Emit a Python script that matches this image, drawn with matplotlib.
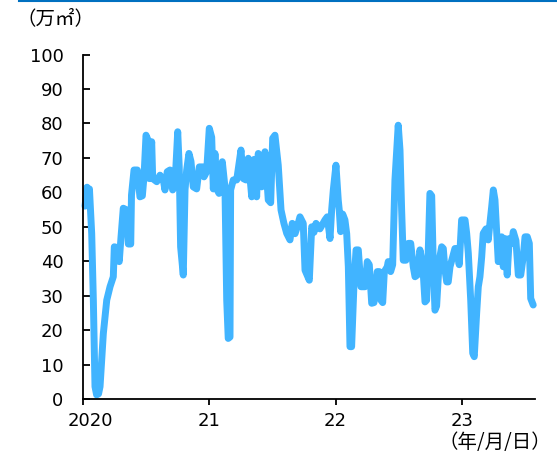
import matplotlib
matplotlib.use("Agg")
import matplotlib.pyplot as plt
import matplotlib.transforms as mtransforms
from matplotlib.lines import Line2D

# time in decimal years, value in 万㎡
years = [
    2020.016, 2020.032, 2020.044, 2020.051, 2020.069, 2020.082, 2020.095, 2020.108,
    2020.123, 2020.135, 2020.161, 2020.188, 2020.214, 2020.240, 2020.248, 2020.267,
    2020.287, 2020.301, 2020.319, 2020.346, 2020.359, 2020.378, 2020.384, 2020.404,
    2020.430, 2020.451, 2020.470, 2020.483, 2020.499, 2020.517, 2020.525, 2020.544,
    2020.552, 2020.584, 2020.610, 2020.636, 2020.649, 2020.667, 2020.689, 2020.710,
    2020.728, 2020.750, 2020.762, 2020.773, 2020.794, 2020.808, 2020.821, 2020.839,
    2020.855, 2020.873, 2020.900, 2020.921, 2020.948, 2020.958, 2020.979, 2021.000,
    2021.019, 2021.032, 2021.045, 2021.059, 2021.077, 2021.103, 2021.124, 2021.138,
    2021.150, 2021.164, 2021.169, 2021.190, 2021.217, 2021.230, 2021.251, 2021.269,
    2021.291, 2021.309, 2021.336, 2021.356, 2021.375, 2021.388, 2021.415, 2021.441,
    2021.467, 2021.486, 2021.502, 2021.520, 2021.546, 2021.568, 2021.591, 2021.613,
    2021.639, 2021.657, 2021.679, 2021.697, 2021.718, 2021.744, 2021.758, 2021.792,
    2021.811, 2021.829, 2021.845, 2021.876, 2021.916, 2021.934, 2021.956, 2021.969,
    2021.982, 2022.003, 2022.021, 2022.029, 2022.040, 2022.056, 2022.074, 2022.088,
    2022.101, 2022.114, 2022.127, 2022.146, 2022.162, 2022.180, 2022.201, 2022.233,
    2022.251, 2022.267, 2022.286, 2022.304, 2022.330, 2022.346, 2022.359, 2022.373,
    2022.386, 2022.409, 2022.417, 2022.436, 2022.452, 2022.470, 2022.496, 2022.510,
    2022.523, 2022.536, 2022.557, 2022.576, 2022.595, 2022.615, 2022.629, 2022.647,
    2022.668, 2022.690, 2022.708, 2022.721, 2022.734, 2022.747, 2022.761, 2022.774,
    2022.787, 2022.800, 2022.821, 2022.840, 2022.853, 2022.866, 2022.880, 2022.892,
    2022.906, 2022.927, 2022.945, 2022.959, 2022.979, 2022.998, 2023.025, 2023.038,
    2023.051, 2023.070, 2023.086, 2023.098, 2023.117, 2023.130, 2023.143, 2023.157,
    2023.169, 2023.191, 2023.209, 2023.222, 2023.236, 2023.249, 2023.262, 2023.276,
    2023.288, 2023.302, 2023.315, 2023.328, 2023.341, 2023.359, 2023.375, 2023.394,
    2023.407, 2023.428, 2023.447, 2023.466, 2023.486, 2023.500, 2023.518, 2023.534,
    2023.545, 2023.565,
]
values = [
    56, 61.5, 57, 61, 48, 28.7, 3.6, 1.2,
    1.5, 3.6, 19, 28.7, 32.6, 35.5, 44.2, 44,
    39.9, 47, 55.4, 54.9, 45, 45, 59.2, 66.5,
    66.5, 58.7, 59, 64.5, 76.6, 75, 64, 74.7,
    64, 63.1, 65, 63.6, 60.7, 66, 66.5, 60.7,
    62, 77.6, 67.4, 44.2, 36, 60.7, 66.5, 71.3,
    69, 61.6, 61, 67.4, 67.4, 64.5, 66, 78.6,
    76, 61, 71.3, 61, 59.7, 68.9, 61.6, 28.7,
    17.6, 18, 60.7, 63.6, 63.6, 67, 72.3, 64,
    63.6, 69.9, 58.7, 69.6, 58.7, 71.3, 61.6, 71.8,
    57.8, 57, 75.7, 76.6, 67.9, 54.9, 51, 48.1,
    46.2, 51, 48, 50, 52.9, 51, 37.4, 34.5,
    50, 48.4, 51, 49.4, 52, 52.9, 46.6, 54.9,
    60.7, 67.9, 57.8, 54.9, 48.6, 53.7, 52, 48,
    38.4, 15.2, 15.2, 33.6, 43.3, 43.3, 32.6, 32.6,
    39.9, 39, 27.8, 28, 37, 37, 28.7, 28,
    37, 38.4, 39.9, 37, 39, 63.6, 79.5, 72.3,
    54.9, 40.3, 40.3, 45.2, 45.2, 38.4, 35.5, 36,
    43.3, 39, 28.2, 28.7, 43.3, 59.7, 59, 38.4,
    25.8, 27, 40.3, 44.2, 43.7, 37.5, 34, 34,
    38.4, 41.3, 43.7, 43.7, 39, 52, 52, 48.1,
    42.3, 28.7, 13.3, 12.3, 24.9, 32.6, 35.5, 41.3,
    48.1, 49.4, 46.2, 51, 55.8, 60.7, 57.8, 48.1,
    39.9, 40.3, 47.1, 38.4, 46.6, 36, 46.6, 45.2,
    48.6, 46, 36, 36, 41.3, 47.1, 47.1, 45.2,
    29.2, 27.3,
]

year_ticks = [2020, 2021, 2022, 2023]
year_labels = ["2020", "21", "22", "23"]
y_ticks = list(range(0, 101, 10))

fig = plt.figure(figsize=(5.57, 4.55), dpi=100)
ax = fig.add_axes([0.149, 0.123, 0.8115, 0.757])

ax.plot(years, values, color="#41B4FF", linewidth=5,
        solid_joinstyle="round", solid_capstyle="round", clip_on=False)

ax.set_xlim(2020, 2023.579)
ax.set_ylim(0, 100)
ax.set_xticks(year_ticks)
ax.set_xticklabels(year_labels)
ax.set_yticks(y_ticks)

for side in ["top", "right"]:
    ax.spines[side].set_visible(False)
for side in ["left", "bottom"]:
    ax.spines[side].set_linewidth(1.3)
    ax.spines[side].set_color("black")

ax.tick_params(axis="y", direction="in", length=5, width=1.3, pad=14,
               labelsize=13, colors="black")
ax.tick_params(axis="x", direction="out", length=4, width=1.3, pad=5,
               labelsize=13, colors="black")

# nudge the first year label right, as in the original
first = ax.get_xticklabels()[0]
first.set_transform(first.get_transform() +
                    mtransforms.ScaledTranslation(7 / 100, 0, fig.dpi_scale_trans))

cjk = ["Noto Sans CJK JP", "DejaVu Sans"]
fig.text(0.03, 0.96, "（万㎡）", family=cjk, fontsize=14, ha="left", va="center")
fig.text(0.99, 0.028, "（年/月/日）", family=cjk, fontsize=14, ha="right", va="center")

# blue rule along the top edge
fig.add_artist(Line2D([0.034, 1.0], [0.998, 0.998], transform=fig.transFigure,
                      color="#0070C0", linewidth=1.5))

fig.savefig("out.png", dpi=100)
